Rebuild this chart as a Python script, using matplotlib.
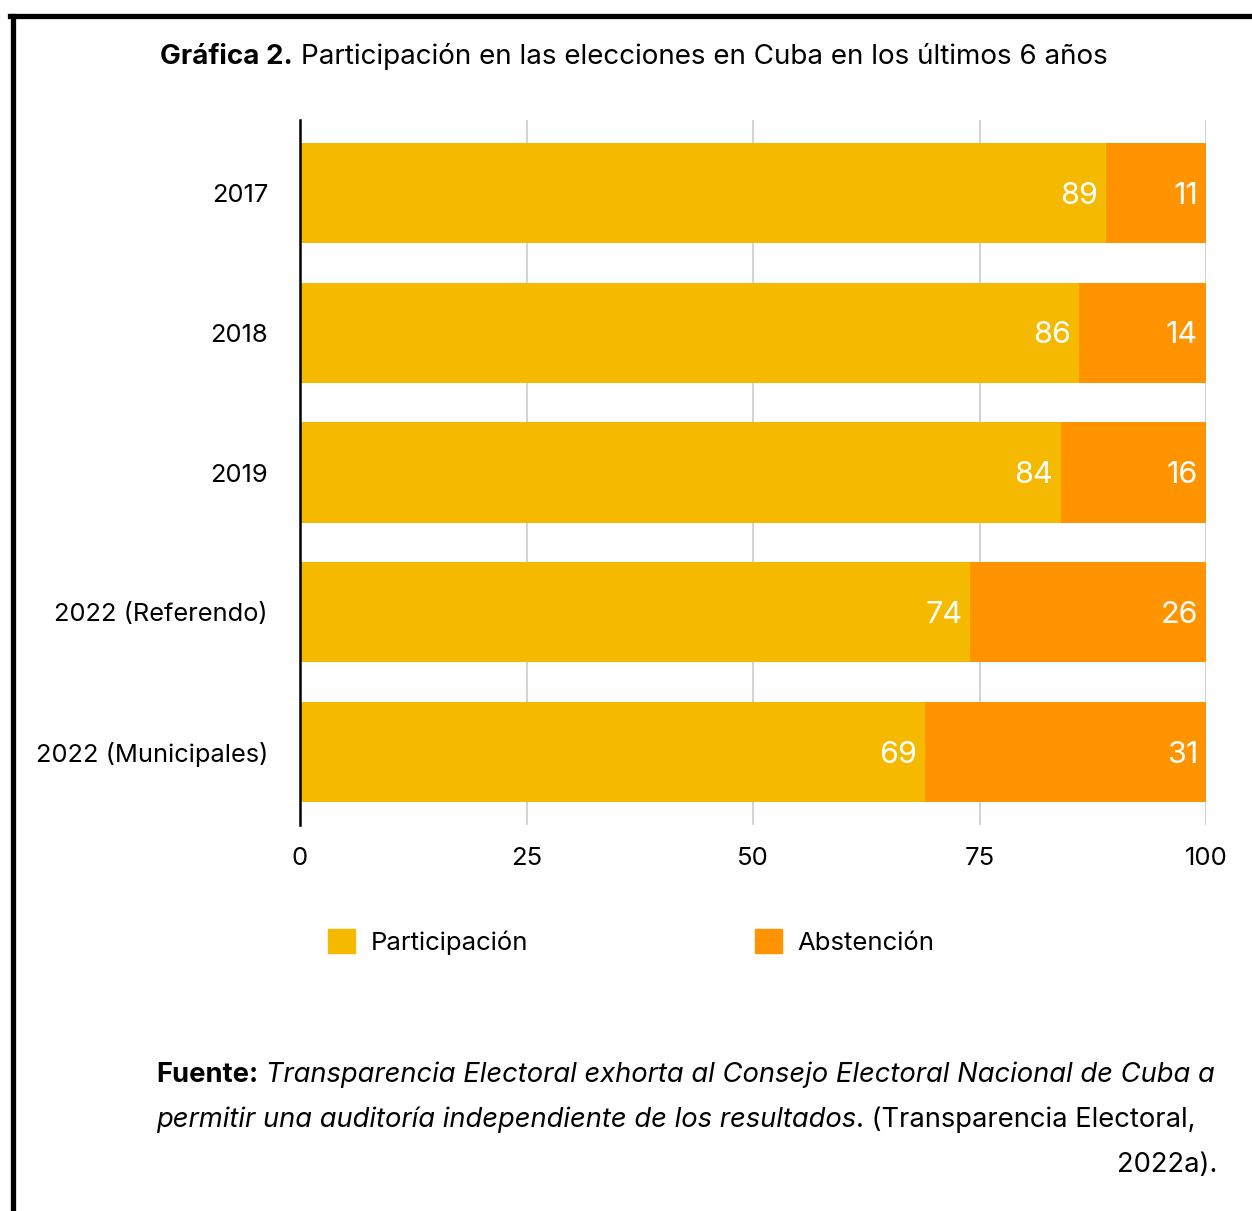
import matplotlib.pyplot as plt
from matplotlib.patches import Patch
from matplotlib.lines import Line2D

# data
years = ["2017", "2018", "2019", "2022 (Referendo)", "2022 (Municipales)"]
participacion = [89, 86, 84, 74, 69]
abstencion = [11, 14, 16, 26, 31]
xticks = [0, 25, 50, 75, 100]

c_part = "#F5B900"
c_abst = "#FF9400"

plt.rcParams['font.family'] = ['Inter', 'DejaVu Sans']

fig = plt.figure(figsize=(12.52, 12.11), dpi=100)
W, H = 1252, 1211
ax = fig.add_axes([300 / W, 1 - 825 / H, 906 / W, 705 / H])

pos = list(range(len(years)))
ax.barh(pos, participacion, height=0.715, color=c_part, zorder=2)
ax.barh(pos, abstencion, left=participacion, height=0.715, color=c_abst, zorder=2)

for i in pos:
    ax.text(participacion[i] - 0.9, i + 0.02, str(participacion[i]), color="white",
            fontsize=22, ha="right", va="center", zorder=3)
    ax.text(100 - 0.9, i + 0.02, str(abstencion[i]), color="white",
            fontsize=22, ha="right", va="center", zorder=3)

ax.set_xlim(0, 100)
ax.set_ylim(len(years) - 0.48, -0.52)
ax.set_yticks(pos)
ax.set_yticklabels(years, fontsize=18.3)
ax.set_xticks(xticks)
ax.set_xticklabels([str(t) for t in xticks], fontsize=18.5)
ax.tick_params(axis="both", length=0)
ax.tick_params(axis="y", pad=23)
ax.tick_params(axis="x", pad=16)
ax.grid(axis="x", color="#cccccc", linewidth=1.2, zorder=0)
ax.set_axisbelow(True)
for s in ["top", "right", "bottom"]:
    ax.spines[s].set_visible(False)
ax.spines["left"].set_linewidth(1.8)
ax.spines["left"].set_zorder(4)

# legend
handles = [Patch(color=c_part, label="Participación"),
           Patch(color=c_abst, label="Abstención")]
fig.legend(handles=handles, loc="center left", bbox_to_anchor=(305 / W, 1 - 942 / H),
           ncol=2, frameon=False, fontsize=18.5, handlelength=1.05, handleheight=1.05,
           handletextpad=0.6, columnspacing=8.85)

# title
t1 = fig.text(160 / W, 1 - 64 / H, "Gráfica 2.", fontsize=20, fontweight="bold",
              ha="left", va="baseline")
ax.annotate(" Participación en las elecciones en Cuba en los últimos 6 años",
            xy=(1, 0), xycoords=t1, fontsize=20, ha="left", va="bottom",
            annotation_clip=False)

# source note
f1 = fig.text(156 / W, 1 - 1082 / H, "Fuente:", fontsize=19.7, fontweight="bold",
              ha="left", va="baseline")
ax.annotate(" Transparencia Electoral exhorta al Consejo Electoral Nacional de Cuba a",
            xy=(1, 0), xycoords=f1, fontsize=19.7, style="italic", ha="left",
            va="bottom", annotation_clip=False)
f2 = fig.text(156 / W, 1 - 1127 / H,
              "permitir una auditoría independiente de los resultados",
              fontsize=19.7, style="italic", ha="left", va="baseline")
ax.annotate(". (Transparencia Electoral,", xy=(1, 0), xycoords=f2, fontsize=19.7,
            ha="left", va="bottom", annotation_clip=False)
fig.text(1217 / W, 1 - 1172 / H, "2022a).", fontsize=19.7, ha="right", va="baseline")

# frame lines (top and left)
fig.add_artist(Line2D([10 / W, 1], [1 - 16 / H, 1 - 16 / H], color="black", linewidth=3.8))
fig.add_artist(Line2D([13 / W, 13 / W], [0, 1 - 16 / H], color="black", linewidth=3.8))

fig.savefig("out.png", dpi=100, facecolor="white")
